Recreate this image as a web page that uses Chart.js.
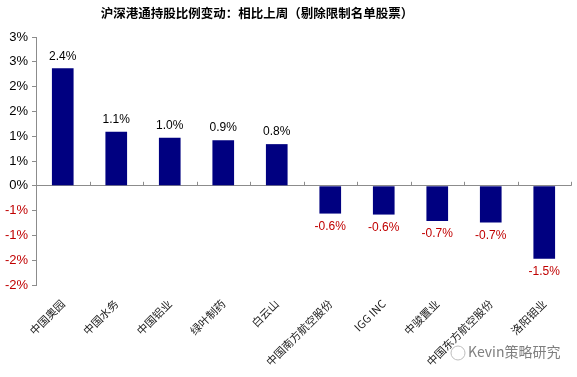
<!DOCTYPE html>
<html>
<head>
<meta charset="utf-8">
<script src="https://cdn.jsdelivr.net/npm/chart.js@4/dist/chart.umd.min.js"></script>
<style>
  body { margin: 0; background: #fff; }
  canvas { display: block; }
</style>
</head>
<body>
<canvas id="chart" width="577" height="377"></canvas>
<script>
// Data
const chartTitle = '沪深港通持股比例变动：相比上周（剔除限制名单股票）';
const categories = ['中国奥园', '中国水务', '中国铝业', '绿叶制药', '白云山', '中国南方航空股份', 'IGG INC', '中骏置业', '中国东方航空股份', '洛阳钼业'];
const changes = [2.37, 1.09, 0.97, 0.92, 0.84, -0.56, -0.58, -0.71, -0.74, -1.47];
const yTickLabels = ['-2%', '-2%', '-1%', '-1%', '0%', '1%', '1%', '2%', '2%', '3%', '3%'];
const watermark = 'Kevin策略研究';

const RED = '#C00000';
const AXIS = '#8c8c8c';
const LATIN = '"Liberation Sans", Arial, sans-serif';
const CJK = '"Noto Sans CJK SC", "Liberation Sans", sans-serif';

// title, value labels, zero line ticks, watermark
const decorations = {
    id: 'decorations',
    afterDatasetsDraw(chart) {
        const ctx = chart.ctx;
        const meta = chart.getDatasetMeta(0);
        const y = chart.scales.y;
        const x = chart.scales.x;
        const zero = y.getPixelForValue(0);
        ctx.save();

        // value labels
        ctx.font = '12px ' + LATIN;
        ctx.textAlign = 'center';
        meta.data.forEach((bar, i) => {
            const v = changes[i];
            const txt = v.toFixed(1) + '%';
            if (v >= 0) {
                ctx.fillStyle = '#000';
                ctx.textBaseline = 'bottom';
                ctx.fillText(txt, bar.x, bar.y - 6);
            } else {
                ctx.fillStyle = RED;
                ctx.textBaseline = 'top';
                ctx.fillText(txt, bar.x, bar.y + 7);
            }
        });

        // tick marks on the zero line between categories
        ctx.strokeStyle = AXIS;
        ctx.lineWidth = 1;
        const step = (x.right - x.left) / categories.length;
        for (let i = 1; i <= categories.length; i++) {
            const px = Math.round(x.left + step * i) + 0.5;
            ctx.beginPath();
            ctx.moveTo(px, zero);
            ctx.lineTo(px, zero - 4);
            ctx.stroke();
        }

        // title
        ctx.fillStyle = '#000';
        ctx.font = 'bold 12.5px ' + CJK;
        ctx.textAlign = 'center';
        ctx.textBaseline = 'middle';
        ctx.fillText(chartTitle, 257, 13);

        // watermark
        ctx.fillStyle = '#7f7f7f';
        ctx.font = '14px ' + CJK;
        ctx.textAlign = 'left';
        ctx.fillText(watermark, 468, 352);
        ctx.strokeStyle = '#bdbdbd';
        ctx.beginPath();
        ctx.arc(458, 353, 7, 0, Math.PI * 2);
        ctx.stroke();
        ctx.restore();
    }
};

new Chart(document.getElementById('chart'), {
    type: 'bar',
    data: {
        labels: categories,
        datasets: [{
            data: changes,
            backgroundColor: '#000080',
            borderWidth: 0,
            categoryPercentage: 1,
            barPercentage: 0.405
        }]
    },
    options: {
        responsive: false,
        animation: false,
        layout: { padding: { top: 37, right: 6, left: 0, bottom: 0 } },
        plugins: { legend: { display: false }, tooltip: { enabled: false }, title: { display: false } },
        scales: {
            x: {
                grid: { display: false },
                border: { display: false },
                ticks: {
                    minRotation: 45,
                    maxRotation: 45,
                    autoSkip: false,
                    padding: 4,
                    color: '#222',
                    font: { family: CJK, size: 11 }
                },
                afterFit(scale) { scale.height = 92; }
            },
            y: {
                min: -2,
                max: 3,
                ticks: {
                    stepSize: 0.5,
                    padding: 4,
                    callback: (v, i) => yTickLabels[i],
                    color: (c) => c.tick.value < 0 ? RED : '#000',
                    font: { family: LATIN, size: 13 }
                },
                grid: {
                    drawOnChartArea: true,
                    color: (c) => c.tick.value === 0 ? AXIS : 'rgba(0,0,0,0)',
                    tickColor: AXIS,
                    tickLength: 4
                },
                border: { display: true, color: AXIS },
                afterFit(scale) { scale.width = 36; }
            }
        }
    },
    plugins: [decorations]
});
</script>
</body>
</html>
